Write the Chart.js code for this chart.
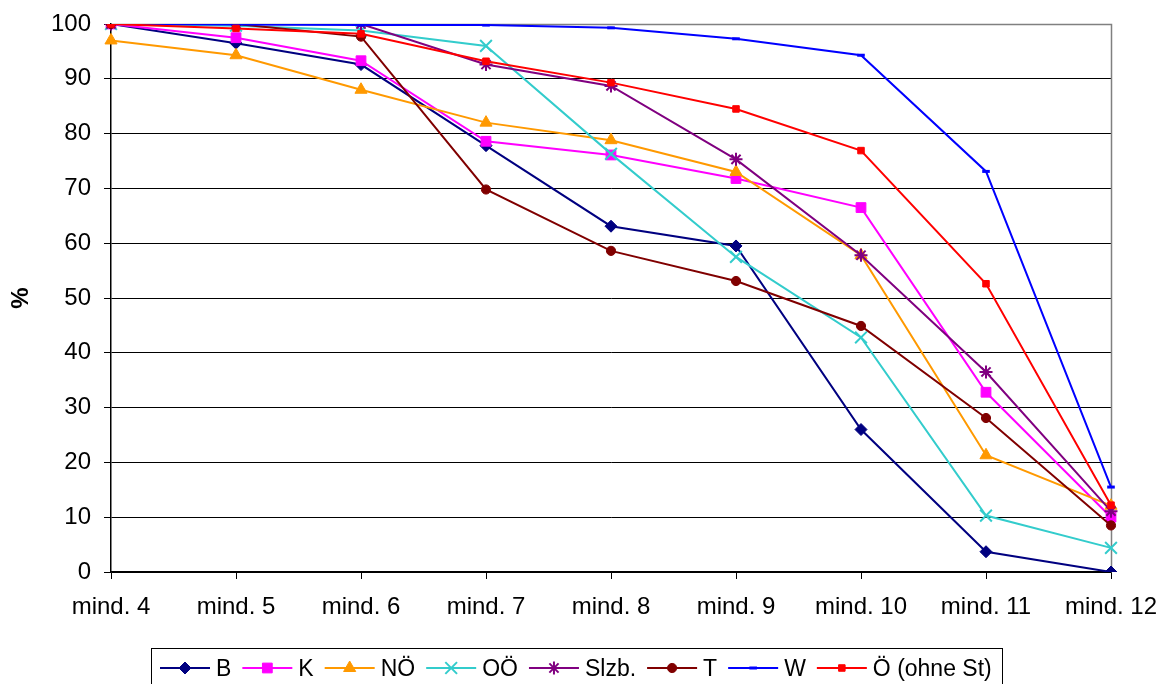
<!DOCTYPE html>
<html>
<head>
<meta charset="utf-8">
<script src="https://cdn.jsdelivr.net/npm/chart.js@4/dist/chart.umd.min.js"></script>
<style>
html,body{margin:0;padding:0;background:#fff;}
#wrap{width:1163px;height:684px;position:relative;}
</style>
</head>
<body>
<div id="wrap"><canvas id="c" width="1163" height="684"></canvas></div>
<script>
const categories = ["mind. 4","mind. 5","mind. 6","mind. 7","mind. 8","mind. 9","mind. 10","mind. 11","mind. 12"];
const seriesNames = ["B","K","NÖ","OÖ","Slzb.","T","W","Ö (ohne St)"];
const valuesB    = [100, 96.5, 92.6, 77.8, 63.1, 59.5, 26.0, 3.7, 0];
const valuesK    = [100, 97.5, 93.3, 78.6, 76.1, 71.8, 66.5, 32.8, 10.0];
const valuesNOE  = [97.0, 94.3, 88.0, 82.0, 78.8, 73.0, 57.8, 21.3, 12.1];
const valuesOOE  = [100, 99.7, 98.8, 96.0, 76.3, 57.5, 42.8, 10.3, 4.4];
const valuesSlzb = [100, 100, 100, 92.6, 88.7, 75.3, 57.8, 36.5, 11.1];
const valuesT    = [100, 100, 97.7, 69.8, 58.6, 53.1, 44.9, 28.1, 8.5];
const valuesW    = [100, 99.9, 99.8, 99.8, 99.3, 97.3, 94.3, 73.1, 15.5];
const valuesOe   = [100, 99.2, 98.2, 93.2, 89.3, 84.5, 76.9, 52.6, 12.2];
const yTicks = [0,10,20,30,40,50,60,70,80,90,100];

const seriesValues = [valuesB, valuesK, valuesNOE, valuesOOE, valuesSlzb, valuesT, valuesW, valuesOe];
const colors = ["#000080","#FF00FF","#FF9900","#33CCCC","#800080","#800000","#0000FF","#FF0000"];
const styles = [
  {s:'rectRot', r:6, bw:1},
  {s:'rect', r:6.9, bw:1},
  {s:'triangle', r:7, bw:1},
  {s:'crossRot', r:8.3, bw:2},
  {s:'star', r:6.5, bw:2},
  {s:'circle', r:4.6, bw:1},
  {s:'line', r:3.8, bw:3},
  {s:'rect', r:4.6, bw:1}
];
const FONT = '"Liberation Sans", Arial, sans-serif';

const datasets = seriesNames.map((name, i) => ({
  label: name,
  data: seriesValues[i],
  borderColor: colors[i],
  backgroundColor: colors[i],
  borderWidth: 2,
  pointStyle: styles[i].s,
  pointRadius: styles[i].r,
  pointBorderWidth: styles[i].bw,
  pointBackgroundColor: colors[i],
  pointBorderColor: colors[i],
  tension: 0,
  order: seriesNames.length - 1 - i
}));

const framePlugin = {
  id: 'frame',
  beforeDatasetsDraw(chart) {
    const {ctx, chartArea: a} = chart;
    ctx.save();
    ctx.strokeStyle = '#808080';
    ctx.lineWidth = 1.5;
    ctx.beginPath();
    ctx.moveTo(a.left, a.top + 0.5);
    ctx.lineTo(a.right + 0.5, a.top + 0.5);
    ctx.lineTo(a.right + 0.5, a.bottom);
    ctx.stroke();
    ctx.restore();
  },
  afterDraw(chart) {
    const ctx = chart.ctx;
    ctx.save();
    ctx.strokeStyle = '#000';
    ctx.lineWidth = 1;
    ctx.strokeRect(151.5, 648.5, 851, 60);
    ctx.font = '23px ' + FONT;
    ctx.textBaseline = 'alphabetic';
    ctx.textAlign = 'left';
    let x = 160;
    const cy = 668;
    chart.data.datasets.forEach((ds, i) => {
      ctx.strokeStyle = ds.borderColor;
      ctx.lineWidth = 2;
      ctx.beginPath();
      ctx.moveTo(x, cy);
      ctx.lineTo(x + 50, cy);
      ctx.stroke();
      ctx.fillStyle = ds.borderColor;
      ctx.lineWidth = ds.pointBorderWidth;
      Chart.helpers.drawPoint(ctx, {pointStyle: ds.pointStyle, radius: ds.pointRadius, rotation: 0, borderWidth: ds.pointBorderWidth}, x + 25, cy);
      x += 56;
      ctx.fillStyle = '#000';
      ctx.fillText(ds.label, x, 676);
      x += ctx.measureText(ds.label).width + 11;
    });
    ctx.restore();
  }
};

new Chart(document.getElementById('c'), {
  type: 'line',
  data: { labels: categories, datasets },
  options: {
    responsive: false,
    maintainAspectRatio: false,
    devicePixelRatio: 1,
    animation: false,
    events: [],
    layout: { padding: { left: 0, top: 24, right: 52, bottom: 0 } },
    plugins: { legend: { display: false }, tooltip: { enabled: false } },
    scales: {
      x: {
        type: 'category',
        offset: false,
        grid: { drawOnChartArea: false, drawTicks: true, tickLength: 7, color: '#000', lineWidth: 1 },
        border: { color: '#000', width: 1.5 },
        ticks: { color: '#000', font: { family: FONT, size: 24 }, padding: 14, maxRotation: 0, autoSkip: false },
        afterFit(s) { s.height = 112; s.paddingLeft = 0; s.paddingRight = 0; }
      },
      y: {
        min: 0, max: 100,
        afterBuildTicks(s) { s.ticks = yTicks.map(v => ({ value: v })); },
        grid: { color: '#000', lineWidth: 1, tickLength: 7, drawTicks: true },
        border: { color: '#000', width: 1.5 },
        ticks: { color: '#000', font: { family: FONT, size: 24 }, padding: 13 },
        title: { display: true, text: '%', color: '#000', font: { family: FONT, size: 24, weight: 'bold' }, padding: { top: 7, bottom: 0 } },
        afterFit(s) { s.width = 111; s.paddingTop = 0; s.paddingBottom = 0; }
      }
    }
  },
  plugins: [framePlugin]
});
</script>
</body>
</html>
